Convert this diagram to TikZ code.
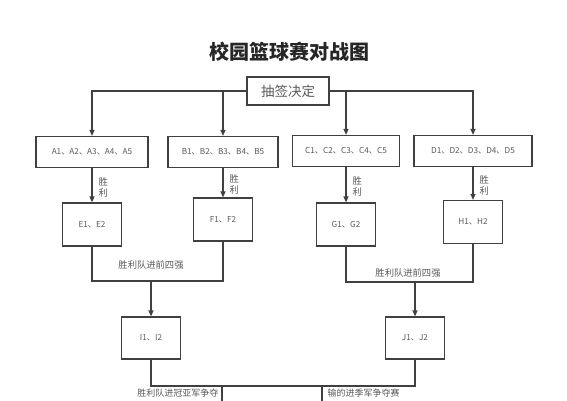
\documentclass[tikz,border=0pt]{standalone}
\usepackage{fontspec}
\setmainfont{Noto Sans CJK SC}
\usetikzlibrary{arrows.meta,positioning}

\begin{document}
\begin{tikzpicture}[
    x=1pt, y=-1pt,
    line width=1.2pt,
    >={Triangle[length=6pt, width=5pt]},
    box/.style    ={rectangle, draw=black!75, line width=1.2pt, inner sep=0pt,
                    align=center, text=black!65, font=\fontsize{8.2}{9}\selectfont},
    team/.style   ={box, minimum height=31pt},
    pair/.style   ={box, minimum width=59pt, minimum height=43pt},
    flow/.style   ={->, draw=black!75},
    link/.style   ={draw=black!75},
    lbl/.style    ={text=black!65, inner sep=0pt, align=center,
                    font=\fontsize{9.3}{11}\selectfont},
]
\useasboundingbox (0,0) rectangle (567,400);
\clip (0,0) rectangle (567,400);

% ----------------------------------------------------------------------
%  title + draw
% ----------------------------------------------------------------------
\node[text=black!85, font=\fontsize{20}{22}\selectfont\bfseries] (title)
        at (289,52) {校园篮球赛对战图};
\node[box, minimum width=82pt, minimum height=28pt,
      font=\fontsize{13.5}{15}\selectfont] (draw) at (288,91) {抽签决定};

% ----------------------------------------------------------------------
%  group stage
% ----------------------------------------------------------------------
\node[team, minimum width=112pt] (grpA) at (92,152)  {A1、A2、A3、A4、A5};
\node[team, minimum width=110pt] (grpB) at (223,152) {B1、B2、B3、B4、B5};
\node[team, minimum width=107pt] (grpC) at (346,151) {C1、C2、C3、C4、C5};
\node[team, minimum width=118pt] (grpD) at (473,151) {D1、D2、D3、D4、D5};

\draw[flow] (draw.west) -| (grpA.north);
\draw[flow] (draw.west) -| (grpB.north);
\draw[flow] (draw.east) -| (grpC.north);
\draw[flow] (draw.east) -| (grpD.north);

% --- group winners ---
\node[pair] (winE) at (92,224.5)  {E1、E2};
\node[pair] (winF) at (223,219.5) {F1、F2};
\node[pair] (winG) at (346,224.5) {G1、G2};
\node[pair] (winH) at (473,222)   {H1、H2};

\draw[flow] (grpA) -- (winE) node[lbl, midway, right=6pt, yshift=-2pt] {胜\\利};
\draw[flow] (grpB) -- (winF) node[lbl, midway, right=6pt, yshift=-2pt] {胜\\利};
\draw[flow] (grpC) -- (winG) node[lbl, midway, right=6pt, yshift=-2pt] {胜\\利};
\draw[flow] (grpD) -- (winH) node[lbl, midway, right=6pt, yshift=-2pt] {胜\\利};

% ----------------------------------------------------------------------
%  semi finals
% ----------------------------------------------------------------------
\coordinate (mergeEF) at (151,281);
\coordinate (mergeGH) at (415,282);

\node[pair, minimum height=42pt] (semiI) at (151,338) {I1、I2};
\node[pair, minimum height=42pt] (semiJ) at (415,338) {J1、J2};

\draw[link] (winE.south) |- (mergeEF) -| (winF.south);
\draw[link] (winG.south) |- (mergeGH) -| (winH.south);
\draw[flow] (mergeEF) -- (semiI.north);
\draw[flow] (mergeGH) -- (semiJ.north);

\node[lbl] at (151,265) {胜利队进前四强};
\node[lbl] at (408,273) {胜利队进前四强};

% ----------------------------------------------------------------------
%  finals
% ----------------------------------------------------------------------
\coordinate (splitW) at (222,386);
\coordinate (splitL) at (322,386);
\coordinate (final)  at (222,410);
\coordinate (third)  at (322,410);

\draw[link] (semiI.south) |- (splitW) -- (splitL) -| (semiJ.south);
\draw[link] (splitW) -- (final);
\draw[link] (splitL) -- (third);

\node[lbl, anchor=east, font=\fontsize{9}{10}\selectfont] at (219,393.5) {胜利队进冠亚军争夺};
\node[lbl, anchor=west, font=\fontsize{9}{10}\selectfont] at (327,393.5) {输的进季军争夺赛};

\end{tikzpicture}
\end{document}
